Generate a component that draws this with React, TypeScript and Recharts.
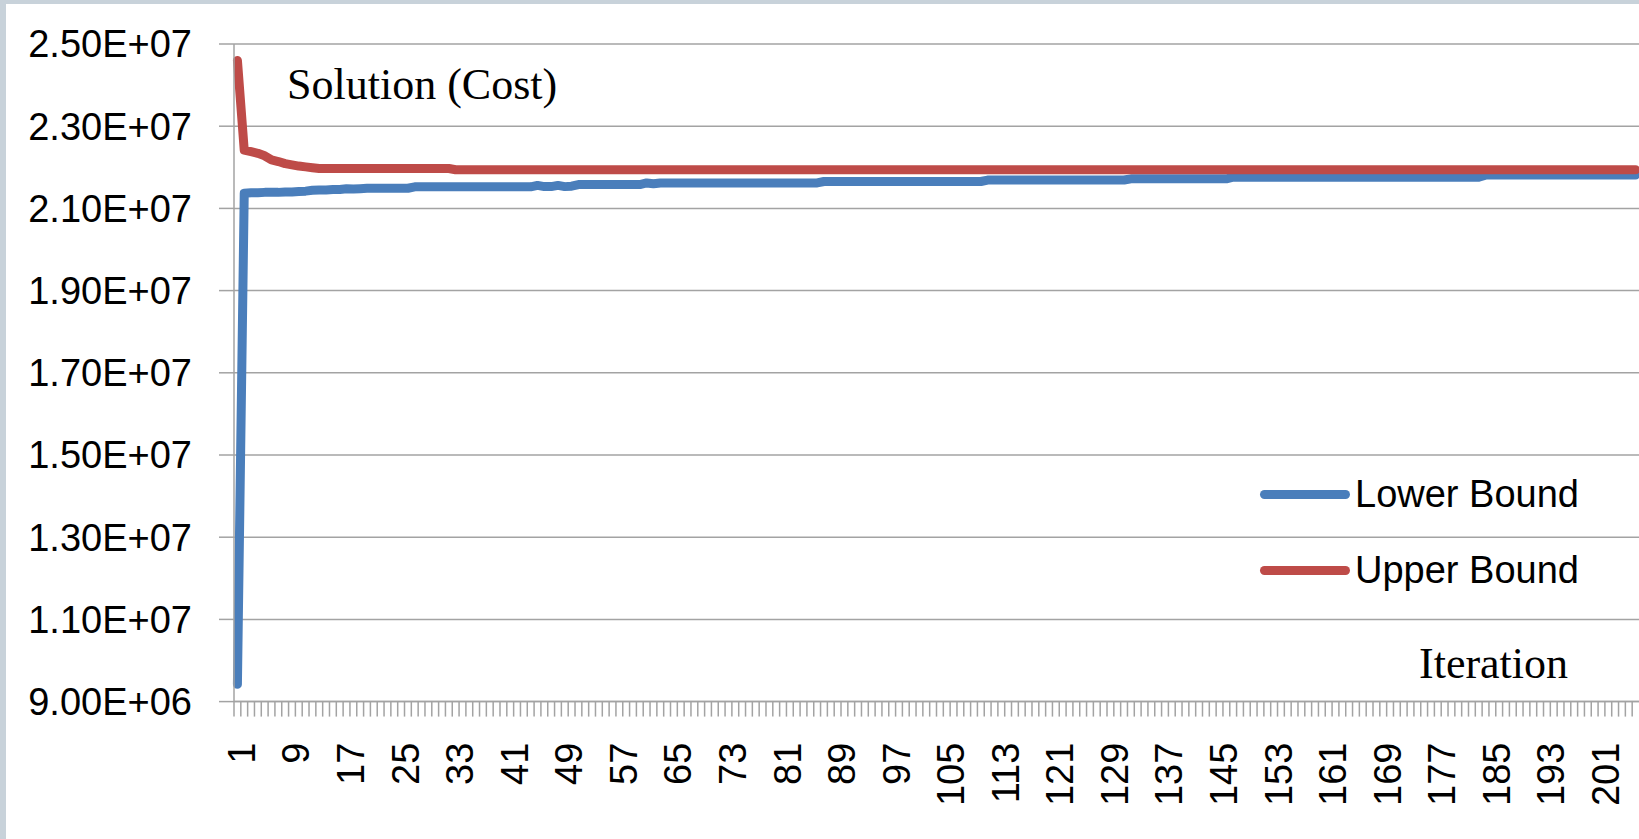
import React from 'react';
import { LineChart, Line, XAxis, YAxis, CartesianGrid } from 'recharts';

// Lower bound values per iteration
const lowerBound: number[] = [
  9.42e6, 2.1366e7, 2.138e7, 2.138e7, 2.139e7, 2.139e7, 2.139e7, 2.14e7, 2.14e7, 2.141e7,
  2.142e7, 2.144e7, 2.145e7, 2.145e7, 2.146e7, 2.146e7, 2.148e7, 2.147e7, 2.148e7, 2.149e7,
  2.149e7, 2.149e7, 2.149e7, 2.149e7, 2.149e7, 2.149e7, 2.1525e7, 2.1525e7, 2.1525e7, 2.1525e7,
  2.1525e7, 2.1525e7, 2.1525e7, 2.1525e7, 2.1525e7, 2.1525e7, 2.1525e7, 2.1525e7, 2.1525e7, 2.1525e7,
  2.1525e7, 2.1525e7, 2.1525e7, 2.1525e7, 2.156e7, 2.153e7, 2.153e7, 2.156e7, 2.153e7, 2.154e7,
  2.158e7, 2.158e7, 2.158e7, 2.158e7, 2.158e7, 2.158e7, 2.158e7, 2.158e7, 2.158e7, 2.158e7,
  2.162e7, 2.16e7, 2.162e7, 2.162e7, 2.162e7, 2.162e7, 2.162e7, 2.162e7, 2.162e7, 2.162e7,
  2.162e7, 2.162e7, 2.162e7, 2.162e7, 2.162e7, 2.162e7, 2.162e7, 2.162e7, 2.162e7, 2.162e7,
  2.162e7, 2.162e7, 2.162e7, 2.162e7, 2.162e7, 2.162e7, 2.1655e7, 2.1655e7, 2.1655e7, 2.1655e7,
  2.1655e7, 2.1655e7, 2.1655e7, 2.1655e7, 2.1655e7, 2.1655e7, 2.1655e7, 2.1655e7, 2.1655e7, 2.1655e7,
  2.1655e7, 2.1655e7, 2.1655e7, 2.1655e7, 2.1655e7, 2.1655e7, 2.1655e7, 2.1655e7, 2.1655e7, 2.1655e7,
  2.169e7, 2.169e7, 2.169e7, 2.169e7, 2.169e7, 2.169e7, 2.169e7, 2.169e7, 2.169e7, 2.169e7,
  2.169e7, 2.169e7, 2.169e7, 2.169e7, 2.169e7, 2.169e7, 2.169e7, 2.169e7, 2.169e7, 2.169e7,
  2.169e7, 2.172e7, 2.172e7, 2.172e7, 2.172e7, 2.172e7, 2.172e7, 2.172e7, 2.172e7, 2.172e7,
  2.172e7, 2.172e7, 2.172e7, 2.172e7, 2.172e7, 2.172e7, 2.176e7, 2.176e7, 2.176e7, 2.176e7,
  2.176e7, 2.176e7, 2.176e7, 2.176e7, 2.176e7, 2.176e7, 2.176e7, 2.176e7, 2.176e7, 2.176e7,
  2.176e7, 2.176e7, 2.176e7, 2.176e7, 2.176e7, 2.176e7, 2.176e7, 2.176e7, 2.176e7, 2.176e7,
  2.176e7, 2.176e7, 2.176e7, 2.176e7, 2.176e7, 2.176e7, 2.176e7, 2.176e7, 2.176e7, 2.176e7,
  2.176e7, 2.176e7, 2.176e7, 2.181e7, 2.181e7, 2.181e7, 2.181e7, 2.181e7, 2.181e7, 2.181e7,
  2.181e7, 2.181e7, 2.181e7, 2.181e7, 2.181e7, 2.181e7, 2.181e7, 2.181e7, 2.181e7, 2.181e7,
  2.181e7, 2.181e7, 2.181e7, 2.181e7, 2.181e7, 2.181e7,
];

// Upper bound values per iteration
const upperBound: number[] = [
  2.46e7, 2.242e7, 2.238e7, 2.234e7, 2.228e7, 2.218e7, 2.214e7, 2.209e7, 2.206e7, 2.203e7,
  2.201e7, 2.199e7, 2.197e7, 2.197e7, 2.197e7, 2.197e7, 2.197e7, 2.197e7, 2.197e7, 2.197e7,
  2.197e7, 2.197e7, 2.197e7, 2.197e7, 2.197e7, 2.197e7, 2.197e7, 2.197e7, 2.197e7, 2.197e7,
  2.197e7, 2.197e7, 2.194e7, 2.194e7, 2.194e7, 2.194e7, 2.194e7, 2.194e7, 2.194e7, 2.194e7,
  2.194e7, 2.194e7, 2.194e7, 2.194e7, 2.194e7, 2.194e7, 2.194e7, 2.194e7, 2.194e7, 2.194e7,
  2.194e7, 2.194e7, 2.194e7, 2.194e7, 2.194e7, 2.194e7, 2.194e7, 2.194e7, 2.194e7, 2.194e7,
  2.194e7, 2.194e7, 2.194e7, 2.194e7, 2.194e7, 2.194e7, 2.194e7, 2.194e7, 2.194e7, 2.194e7,
  2.194e7, 2.194e7, 2.194e7, 2.194e7, 2.194e7, 2.194e7, 2.194e7, 2.194e7, 2.194e7, 2.194e7,
  2.194e7, 2.194e7, 2.194e7, 2.194e7, 2.194e7, 2.194e7, 2.194e7, 2.194e7, 2.194e7, 2.194e7,
  2.194e7, 2.194e7, 2.194e7, 2.194e7, 2.194e7, 2.194e7, 2.194e7, 2.194e7, 2.194e7, 2.194e7,
  2.194e7, 2.194e7, 2.194e7, 2.194e7, 2.194e7, 2.194e7, 2.194e7, 2.194e7, 2.194e7, 2.194e7,
  2.194e7, 2.194e7, 2.194e7, 2.194e7, 2.194e7, 2.194e7, 2.194e7, 2.194e7, 2.194e7, 2.194e7,
  2.194e7, 2.194e7, 2.194e7, 2.194e7, 2.194e7, 2.194e7, 2.194e7, 2.194e7, 2.194e7, 2.194e7,
  2.194e7, 2.194e7, 2.194e7, 2.194e7, 2.194e7, 2.194e7, 2.194e7, 2.194e7, 2.194e7, 2.194e7,
  2.194e7, 2.194e7, 2.194e7, 2.194e7, 2.194e7, 2.194e7, 2.194e7, 2.194e7, 2.194e7, 2.194e7,
  2.194e7, 2.194e7, 2.194e7, 2.194e7, 2.194e7, 2.194e7, 2.194e7, 2.194e7, 2.194e7, 2.194e7,
  2.194e7, 2.194e7, 2.194e7, 2.194e7, 2.194e7, 2.194e7, 2.194e7, 2.194e7, 2.194e7, 2.194e7,
  2.194e7, 2.194e7, 2.194e7, 2.194e7, 2.194e7, 2.194e7, 2.194e7, 2.194e7, 2.194e7, 2.194e7,
  2.194e7, 2.194e7, 2.194e7, 2.194e7, 2.194e7, 2.194e7, 2.194e7, 2.194e7, 2.194e7, 2.194e7,
  2.194e7, 2.194e7, 2.194e7, 2.194e7, 2.194e7, 2.194e7, 2.194e7, 2.194e7, 2.194e7, 2.194e7,
  2.194e7, 2.194e7, 2.194e7, 2.194e7, 2.194e7, 2.194e7,
];

const iterations: number[] = lowerBound.map((_, i) => i + 1);
const yTicks: number[] = [9e6, 1.1e7, 1.3e7, 1.5e7, 1.7e7, 1.9e7, 2.1e7, 2.3e7, 2.5e7];
const labelEvery = 8;

const seriesNames = { lower: 'Lower Bound', upper: 'Upper Bound' };
const titleText = 'Solution (Cost)';
const xTitleText = 'Iteration';

const data = iterations.map((it, i) => ({ iter: it, lower: lowerBound[i], upper: upperBound[i] }));

const CHART_W = 1639;
const CHART_H = 839;
const Y_AXIS_W = 234;
const TOP = 44;
const PLOT_H = 657.6;
const X_AXIS_H = CHART_H - TOP - PLOT_H;
const HALF_STEP = (CHART_W - Y_AXIS_W) / iterations.length / 2;

const GRID = '#a3a3a3';
const BLUE = '#4a7ebb';
const RED = '#be4b48';
const SANS = '"Liberation Sans", Arial, sans-serif';
const SERIF = '"Liberation Serif", "Times New Roman", serif';

const fmtSci = (v: number): string => {
  const e = Math.floor(Math.log10(v) + 1e-9);
  const m = v / Math.pow(10, e);
  return `${m.toFixed(2)}E+${String(e).padStart(2, '0')}`;
};

const XTick = (props: any) => {
  const { x, y, payload } = props;
  const v = payload.value as number;
  const lx = x + 4;
  const ly = y + 41;
  return (
    <g>
      <line x1={x - HALF_STEP} x2={x - HALF_STEP} y1={y} y2={y + 15} stroke={GRID} strokeWidth={1.5} />
      {(v - 1) % labelEvery === 0 && (
        <text
          x={lx}
          y={ly}
          transform={`rotate(-90 ${lx} ${ly})`}
          textAnchor="end"
          dy="0.355em"
          fontSize={38}
          fill="#000"
          fontFamily={SANS}
        >
          {v}
        </text>
      )}
    </g>
  );
};

export default function App() {
  return (
    <div
      style={{
        position: 'fixed',
        left: 0,
        top: 0,
        width: CHART_W,
        height: CHART_H,
        overflow: 'hidden',
        background: '#c8d2da',
      }}
    >
      <div style={{ position: 'absolute', left: 6, top: 4, width: CHART_W, height: CHART_H, background: '#fff' }} />
      <div style={{ position: 'absolute', left: 0, top: 0 }}>
        <LineChart
          width={CHART_W}
          height={CHART_H}
          data={data}
          margin={{ top: TOP, right: 0, bottom: 0, left: 0 }}
          style={{ fontFamily: SANS }}
        >
          <CartesianGrid horizontal vertical={false} stroke={GRID} strokeWidth={1.5} />
          <XAxis
            dataKey="iter"
            type="category"
            interval={0}
            height={X_AXIS_H}
            padding={{ left: HALF_STEP, right: HALF_STEP }}
            tickSize={0}
            tickMargin={0}
            tickLine={false}
            axisLine={{ stroke: GRID, strokeWidth: 1.5 }}
            tick={<XTick />}
          />
          <YAxis
            type="number"
            domain={[9e6, 2.5e7]}
            ticks={yTicks}
            width={Y_AXIS_W}
            tickSize={15}
            tickMargin={27}
            tickFormatter={fmtSci}
            tick={{ fontSize: 38, fill: '#000', fontFamily: SANS }}
            tickLine={{ stroke: GRID, strokeWidth: 1.5 }}
            axisLine={{ stroke: GRID, strokeWidth: 1.5 }}
            interval={0}
          />
          <Line
            type="linear"
            dataKey="lower"
            name={seriesNames.lower}
            stroke={BLUE}
            strokeWidth={9}
            dot={false}
            strokeLinejoin="round"
            strokeLinecap="round"
            isAnimationActive={false}
          />
          <Line
            type="linear"
            dataKey="upper"
            name={seriesNames.upper}
            stroke={RED}
            strokeWidth={9}
            dot={false}
            strokeLinejoin="round"
            strokeLinecap="round"
            isAnimationActive={false}
          />
        </LineChart>
      </div>
      <div
        style={{
          position: 'absolute',
          left: 287,
          top: 63,
          fontFamily: SERIF,
          fontSize: 44,
          lineHeight: '44px',
          color: '#000',
          whiteSpace: 'nowrap',
        }}
      >
        {titleText}
      </div>
      <div
        style={{
          position: 'absolute',
          left: 1419,
          top: 642,
          fontFamily: SERIF,
          fontSize: 44,
          lineHeight: '44px',
          color: '#000',
          whiteSpace: 'nowrap',
        }}
      >
        {xTitleText}
      </div>
      {[
        { name: seriesNames.lower, color: BLUE, cy: 494 },
        { name: seriesNames.upper, color: RED, cy: 570 },
      ].map((item) => (
        <React.Fragment key={item.name}>
          <div
            style={{
              position: 'absolute',
              left: 1260,
              top: item.cy - 4.5,
              width: 90,
              height: 9,
              borderRadius: 4.5,
              background: item.color,
            }}
          />
          <div
            style={{
              position: 'absolute',
              left: 1355,
              top: item.cy - 19,
              fontFamily: SANS,
              fontSize: 38,
              lineHeight: '38px',
              color: '#000',
              whiteSpace: 'nowrap',
            }}
          >
            {item.name}
          </div>
        </React.Fragment>
      ))}
    </div>
  );
}
